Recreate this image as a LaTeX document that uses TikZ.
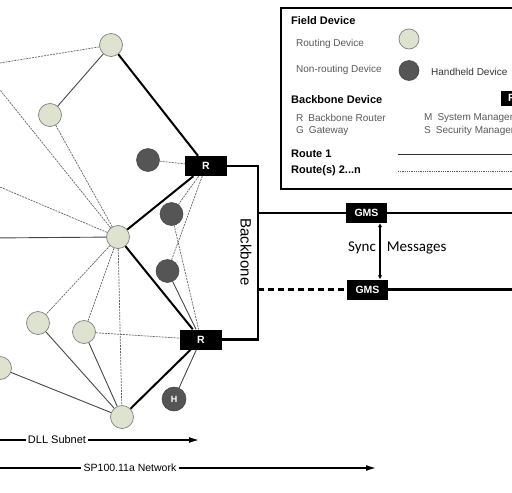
\documentclass[tikz,border=0pt]{standalone}
\usepackage{fontspec}
\setmainfont{Liberation Sans}
\newfontfamily\calib{Carlito}
\usetikzlibrary{arrows.meta}
\definecolor{routefill}{HTML}{DEE3CF}
\definecolor{darkdev}{HTML}{555555}
\begin{document}
\begin{tikzpicture}[x=1pt,y=-1pt,
  rdev/.style={circle,draw=black!50,fill=routefill,line width=0.7pt,minimum size=23pt,inner sep=0},
  ndev/.style={circle,draw=black!75,fill=darkdev,line width=0.5pt,minimum size=23pt,inner sep=0,text=white,font=\bfseries\fontsize{9}{9}\selectfont},
  router/.style={fill=black,minimum width=42pt,minimum height=20pt,inner sep=0,text=white,font=\bfseries\fontsize{10.5}{10.5}\selectfont},
  thickln/.style={line width=2pt,black},
  thinln/.style={line width=0.9pt,black!72},
  dashln/.style={line width=0.7pt,black!62,dash pattern=on 2pt off 1pt},
  bbln/.style={line width=2.5pt,black},
  hd/.style={anchor=west,inner sep=0,font=\bfseries\fontsize{11}{11}\selectfont},
  lt/.style={anchor=west,inner sep=0,text=black!65,font=\fontsize{10}{10}\selectfont},
  netlbl/.style={inner xsep=2pt,inner ysep=0pt,font=\fontsize{11}{11}\selectfont},
  arr/.style={line width=1.4pt,black}
]
\useasboundingbox (0,0) rectangle (512,493);
\clip (0,0) rectangle (512,493);

% ---------- devices ----------
\node[rdev] (A) at (111,45) {};
\node[rdev] (B) at (50,115) {};
\node[rdev] (C) at (118,237) {};
\node[rdev] (D) at (38,323) {};
\node[rdev] (E) at (84,332) {};
\node[rdev] (F) at (0,368) {};
\node[rdev] (G) at (122,417) {};
\node[ndev] (H1) at (148,160) {};
\node[ndev] (H2) at (171.5,214) {};
\node[ndev] (H3) at (167.5,271) {};
\node[ndev,minimum size=24pt] (HH) at (174,399) {H};
\node[router] (R1) at (206,166) {R};
\node[router] (R2) at (201,339.5) {R};

% off-image ends
\coordinate (lA) at (-10,64.6);
\coordinate (l1) at (-10,77.5);
\coordinate (l2) at (-10,182.8);
\coordinate (l3) at (-10,238);

% ---------- links ----------
\draw[thickln] (A) -- (R1);
\draw[thickln] (C) -- (R1);
\draw[thickln] (C) -- (R2);
\draw[thickln] (G) -- (R2);
\draw[thinln] (A) -- (B);
\draw[thinln] (C) -- (l3);
\draw[thinln] (D) -- (G);
\draw[thinln] (E) -- (G);
\draw[thinln] (F) -- (G);
\draw[thinln] (H3) -- (R2);
\draw[thinln] (R2) -- (HH);
\draw[dashln] (A) -- (lA);
\draw[dashln] (C) -- (l1);
\draw[dashln] (B) -- (C);
\draw[dashln] (C) -- (l2);
\draw[dashln] (H1) -- (R1);
\draw[dashln] (R1) -- (H2);
\draw[dashln] (R1) -- (H3);
\draw[dashln] (H2) -- (R2);
\draw[dashln] (C) -- (D);
\draw[dashln] (C) -- (E);
\draw[dashln] (C) -- (G);
\draw[dashln] (E) -- (R2);

% ---------- backbone ----------
\coordinate (bbT) at (258,166);
\coordinate (bbB) at (258,339.5);
\draw[bbln] (R1.east) -- (bbT) -- (bbB) -- (R2.east);
\node[rotate=-90,font=\fontsize{15}{15}\selectfont] (bbt) at (246,252) {Backbone};

\node[router,minimum width=41pt] (G1) at (366.5,213) {GMS};
\node[router,minimum width=41pt] (G2) at (367.5,289.5) {GMS};
\coordinate (j1) at (258,213);
\coordinate (j2) at (258,289.5);
\coordinate (e1) at (520,213);
\coordinate (e2) at (520,289.5);
\draw[bbln] (j1) -- (G1);
\draw[bbln] (G1) -- (e1);
\draw[bbln,dash pattern=on 6pt off 4pt] (j2) -- (G2);
\draw[bbln] (G2) -- (e2);
\draw[line width=1.8pt,{Latex[length=4pt,width=4.5pt]}-{Latex[length=4pt,width=4.5pt]}]
  ([xshift=13.5pt]G1.south) -- ([xshift=12.5pt]G2.north);
\node[anchor=west,inner sep=0,font=\calib\fontsize{15}{15}\selectfont] (sync) at (348,248) {Sync\hspace{11pt}Messages};

% ---------- legend ----------
\node[draw=black,line width=2.2pt,anchor=north west,minimum width=250pt,minimum height=181pt,inner sep=0] (legend) at (280,7) {};
\node[hd] (t1) at (291,21) {Field Device};
\node[lt] (t2) at (296,44) {Routing Device};
\node[rdev,minimum size=20pt] (lr) at (409,39) {};
\node[lt] (t3) at (296,70) {Non-routing Device};
\node[ndev,minimum size=20pt] (ln) at (409,70.5) {};
\node[lt,text=black!80] (t4) at (431,72) {Handheld Device};
\node[hd] (t5) at (291,100) {Backbone Device};
\node[router,minimum width=22pt,minimum height=15pt] (lbox) at (512,98) {R};
\node[lt] (t6) at (296,118) {R\hspace{5pt}Backbone Router};
\node[lt] (t7) at (296,131) {G\hspace{5pt}Gateway};
\node[lt] (t8) at (424,118) {M\hspace{5pt}System Manager};
\node[lt] (t9) at (424,131) {S\hspace{5pt}Security Manager};
\node[hd] (t10) at (291,154) {Route 1};
\node[hd] (t11) at (291,171) {Route(s) 2...n};
\coordinate (ra) at (398,154.5);
\coordinate (rb) at (520,154.5);
\coordinate (rc) at (398,171.5);
\coordinate (rd) at (520,171.5);
\draw[line width=1.1pt,black!80] (ra) -- (rb);
\draw[line width=0.8pt,black!65,dash pattern=on 1pt off 0.8pt] (rc) -- (rd);

% ---------- scope arrows ----------
\node[netlbl] (dll) at (57,440) {DLL Subnet};
\coordinate (dA) at (-5,440);
\coordinate (dB) at (199,440);
\draw[arr] (dA) -- (dll);
\draw[arr,-{Latex[length=10pt,width=6pt]}] (dll) -- (dB);
\node[netlbl,font=\fontsize{10.5}{10.5}\selectfont] (sp) at (130,468) {SP100.11a Network};
\coordinate (sA) at (-5,468);
\coordinate (sB) at (376,468);
\draw[arr] (sA) -- (sp);
\draw[arr,-{Latex[length=10pt,width=6pt]}] (sp) -- (sB);
\end{tikzpicture}
\end{document}
